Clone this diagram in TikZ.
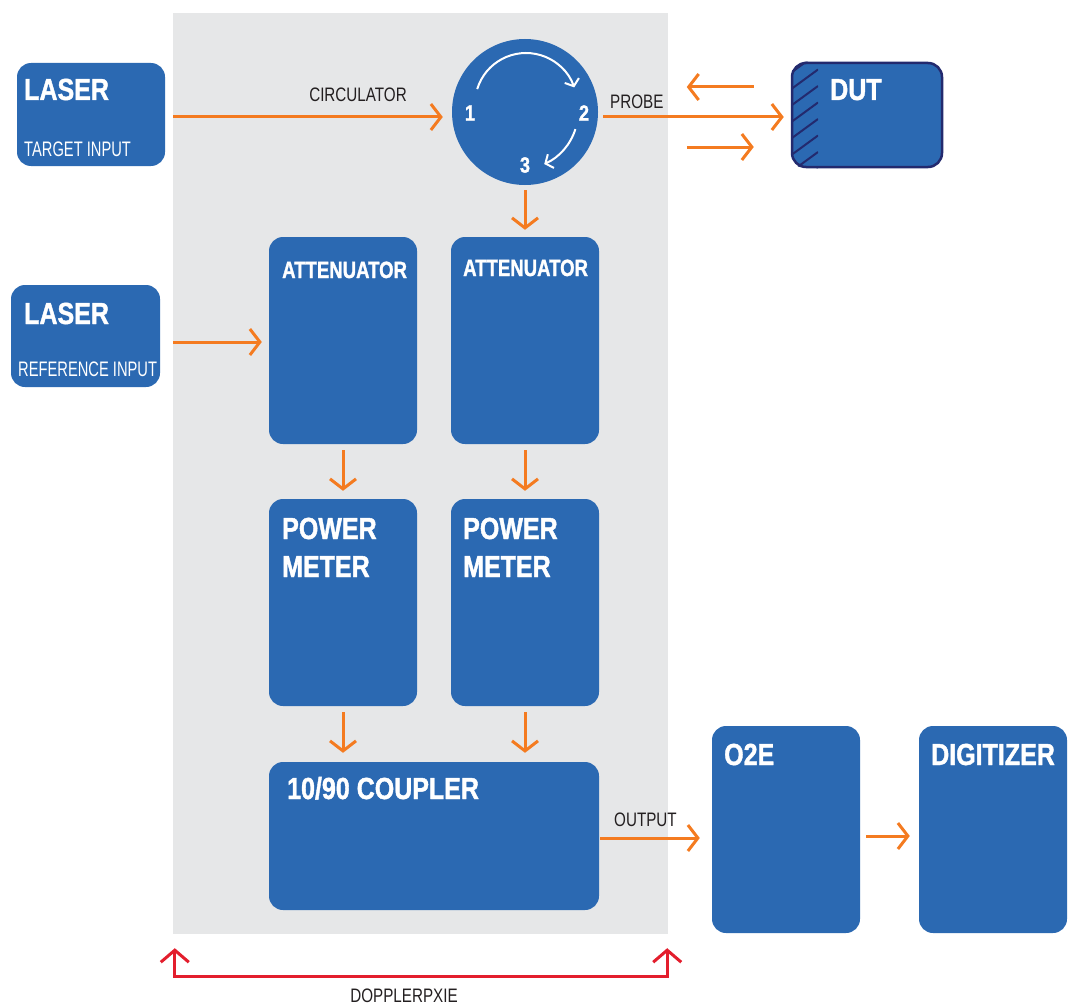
\documentclass[tikz,border=0pt]{standalone}
\usepackage{fontspec}
\setmainfont{Liberation Sans}
\newfontfamily\hvy{Liberation Sans}[FakeStretch=0.82, BoldFeatures={FakeBold=1.3}]
\newfontfamily\hvyn{Liberation Sans}[FakeStretch=0.79, BoldFeatures={FakeBold=1.3}]
\newfontfamily\cnd{Liberation Sans}[FakeStretch=0.78]
\newfontfamily\cnds{Liberation Sans}[FakeStretch=0.70]
\usetikzlibrary{arrows.meta}
\definecolor{boxblue}{HTML}{2B69B2}
\definecolor{arrorange}{HTML}{F47B20}
\definecolor{panelgray}{HTML}{E6E7E8}
\definecolor{dutnavy}{HTML}{232A6E}
\definecolor{dopred}{HTML}{E31E2D}
\definecolor{labeltext}{HTML}{231F20}
\begin{document}
\begin{tikzpicture}[x=1pt,y=-1pt,
 box/.style={fill=boxblue, rounded corners=14pt, inner sep=0pt, draw=none},
 title/.style={text=white, font=\fontsize{30.5}{30.5}\hvy\bfseries, inner sep=0pt, anchor=base west},
 subtitle/.style={text=white, font=\fontsize{21}{21}\cnds, inner sep=0pt, anchor=base west},
 attitle/.style={title, font=\fontsize{23.5}{23.5}\hvyn\bfseries},
 numtitle/.style={text=white, font=\fontsize{22}{22}\hvy\bfseries, inner sep=0pt},
 lbl/.style={text=labeltext, font=\fontsize{19.5}{19.5}\cnd, inner sep=0pt},
 flow/.style={draw=arrorange, line width=3pt, -{Straight Barb[length=10pt,width=26pt]}},
 circarrow/.style={draw=white, line width=2pt, -{Straight Barb[length=6pt,width=15pt]}},
]
\useasboundingbox (0,0) rectangle (1070,1006);
% panel
\node[fill=panelgray, minimum width=495pt, minimum height=921pt, inner sep=0pt] (panel) at (420.5,473.5) {};
% boxes
\node[box, minimum width=148pt, minimum height=103pt] (lt) at (91,114.5) {};
\node[box, minimum width=149pt, minimum height=102pt] (lr) at (85.5,336) {};
\node[circle, fill=boxblue, minimum size=146pt, inner sep=0pt] (circ) at (525,112) {};
\node[box, draw=dutnavy, line width=2.5pt, minimum width=150pt, minimum height=104pt] (dut) at (867,115) {};
\node[box, minimum width=148pt, minimum height=207pt] (a1) at (343,340.5) {};
\node[box, minimum width=148pt, minimum height=207pt] (a2) at (525,340.5) {};
\node[box, minimum width=148pt, minimum height=207pt] (p1) at (343,602.5) {};
\node[box, minimum width=148pt, minimum height=207pt] (p2) at (525,602.5) {};
\node[box, minimum width=330pt, minimum height=148pt] (cp) at (434,836) {};
\node[box, minimum width=148pt, minimum height=207pt] (oe) at (786,829.5) {};
\node[box, minimum width=148pt, minimum height=207pt] (dg) at (993,829.5) {};
% DUT hatch
\begin{scope}
\clip[rounded corners=14pt] (dut.north west) rectangle (dut.south east);
\clip (792,60) rectangle (818,170);
\foreach \yu in {53,69.5,86,102.5,119,135.5,152,168.5}
  \draw[dutnavy, line width=2pt] (792,\yu+19) -- (818,\yu);
\end{scope}
% titles
\node[title] (tlt) at (24,100) {LASER};
\node[subtitle] (slt) at (24,156) {TARGET INPUT};
\node[title] (tlr) at (24,324) {LASER};
\node[subtitle] (slr) at (18,376) {REFERENCE INPUT};
\node[title] (tdut) at (830,100) {DUT};
\node[attitle] (ta1) at (282,278) {ATTENUATOR};
\node[attitle] (ta2) at (463,276) {ATTENUATOR};
\node[title] (tp1a) at (282,539) {POWER};
\node[title] (tp1b) at (282,577) {METER};
\node[title] (tp2a) at (463,539) {POWER};
\node[title] (tp2b) at (463,577) {METER};
\node[title] (tcp) at (287,799) {10/90 COUPLER};
\node[title] (toe) at (724,765) {O2E};
\node[title] (tdg) at (931,765) {DIGITIZER};
% circulator
\node[numtitle] (n1) at (470,113) {1};
\node[numtitle] (n2) at (584,113) {2};
\node[numtitle] (n3) at (525,165) {3};
\draw[circarrow] (477.2,89.1) arc[start angle=-163, end angle=-19, radius=51];
\draw[circarrow] (575.4,129.1) arc[start angle=17.5, end angle=66, radius=57];
% labels
\node[lbl, anchor=base] (lcirc) at (358,102) {CIRCULATOR};
\node[lbl, anchor=base west] (lprobe) at (610,109) {PROBE};
\node[lbl, anchor=base west] (lout) at (614,826) {OUTPUT};
\node[lbl, anchor=base] (ldop) at (404,1002.5) {DOPPLERPXIE};
% flows
\draw[flow] ([xshift=8pt,yshift=-2.5pt]lt.east) -- ([xshift=-9pt,yshift=-5pt]circ.west);
\draw[flow] ([xshift=5pt,yshift=-5pt]circ.east) -- ([xshift=-7pt,yshift=-2pt]dut.west);
\draw[flow] ([xshift=-37pt,yshift=28pt]dut.west) -- ([xshift=-104pt,yshift=28pt]dut.west);
\draw[flow] ([xshift=-104pt,yshift=-32pt]dut.west) -- ([xshift=-37pt,yshift=-32pt]dut.west);
\draw[flow, shorten <=5pt, shorten >=7pt] (circ.south) -- (a2.north);
\draw[flow] ([xshift=13pt,yshift=-6pt]lr.east) -- ([xshift=-7pt,yshift=-1.5pt]a1.west);
\draw[flow, shorten <=6pt, shorten >=8pt] (a1.south) -- (p1.north);
\draw[flow, shorten <=6pt, shorten >=8pt] (a2.south) -- (p2.north);
\draw[flow, shorten <=6pt, shorten >=9pt] (p1.south) -- (p1.south |- cp.north);
\draw[flow, shorten <=6pt, shorten >=9pt] (p2.south) -- (p2.south |- cp.north);
\coordinate (outy) at ([yshift=-2pt]cp.east);
\draw[flow, shorten <=1pt, shorten >=12pt] (outy) -- (outy -| oe.west);
\draw[flow] ([xshift=6pt,yshift=-6.5pt]oe.east) -- ([xshift=-9pt,yshift=-6.5pt]dg.west);
% doppler
\coordinate (dl) at ([xshift=2pt,yshift=-14pt]panel.south west);
\coordinate (dr) at ([xshift=-1pt,yshift=-14pt]panel.south east);
\draw[dopred, line width=3pt, {Straight Barb[length=12pt,width=28pt]}-{Straight Barb[length=12pt,width=28pt]}] (dl) -- ++(0,28) -| (dr);
\end{tikzpicture}
\end{document}
